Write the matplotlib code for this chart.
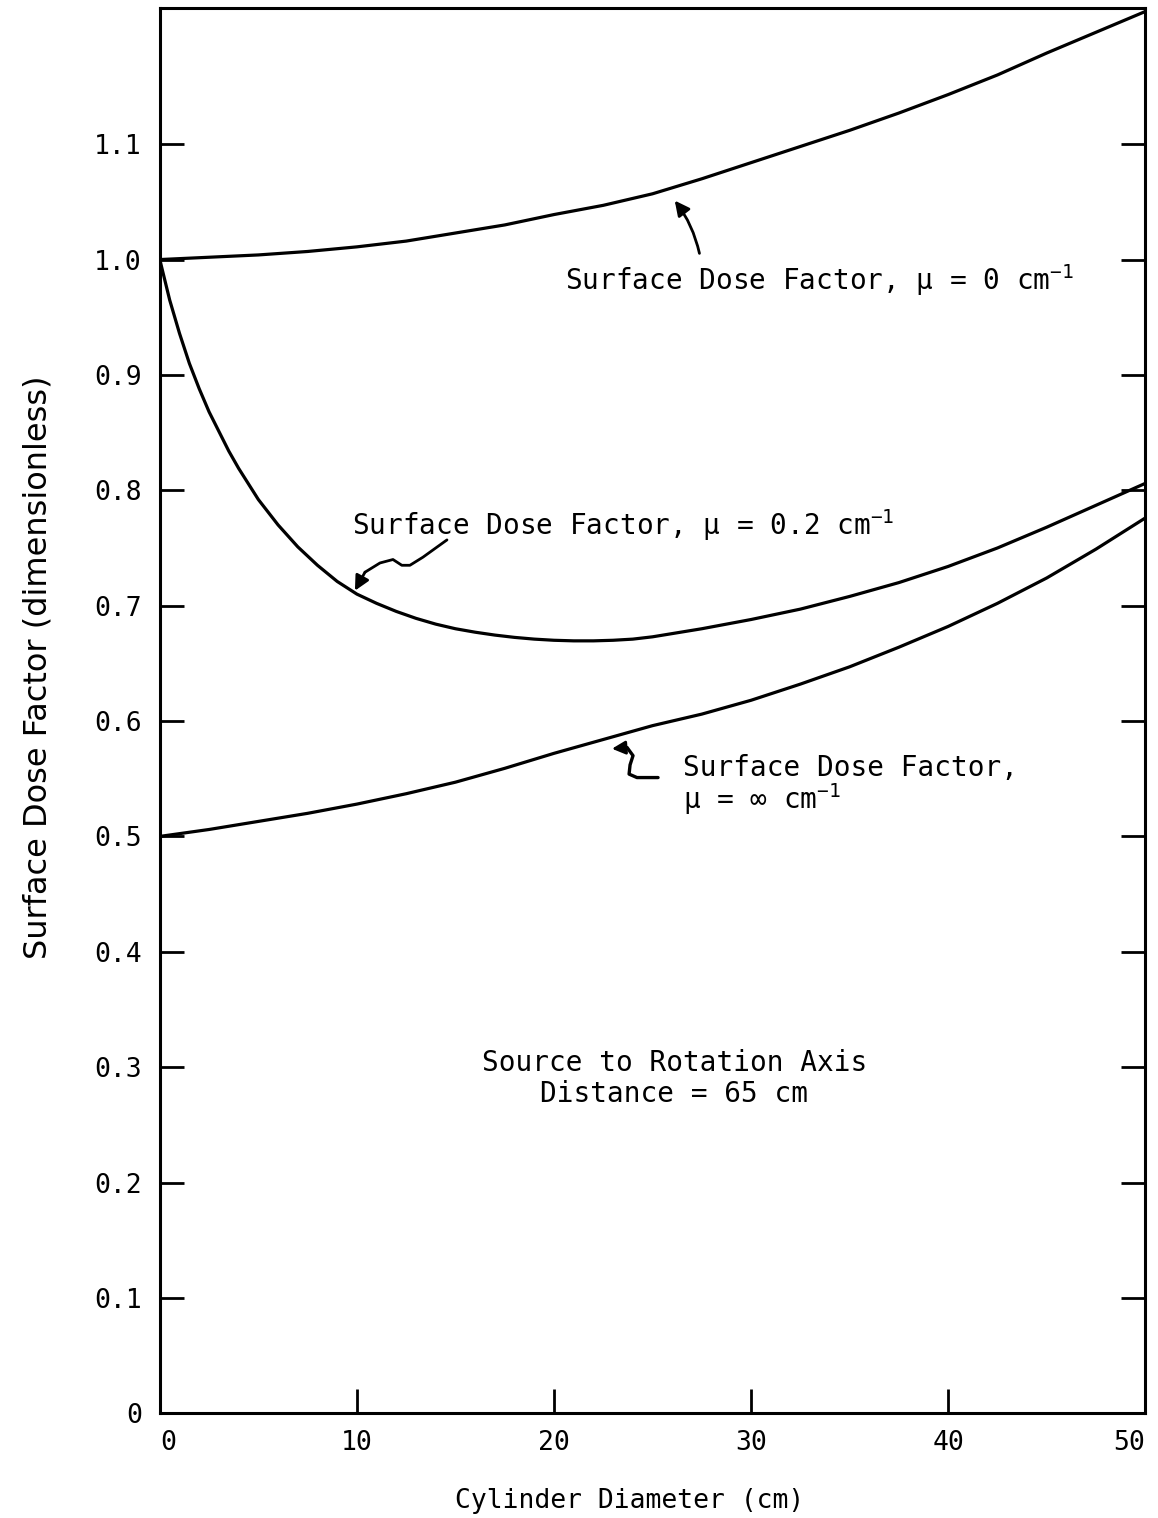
import matplotlib
matplotlib.use("Agg")
import matplotlib.pyplot as plt

plt.rcParams["font.family"] = ["DejaVu Sans Mono", "DejaVu Sans"]
plt.rcParams["mathtext.fontset"] = "custom"
plt.rcParams["mathtext.rm"] = "DejaVu Sans Mono"
plt.rcParams["mathtext.default"] = "regular"

# Surface dose factor vs. cylinder diameter (cm)
diameter_mu0 = [0, 2.5, 5, 7.5, 10, 12.5, 15, 17.5, 20, 22.5, 25, 27.5, 30,
                32.5, 35, 37.5, 40, 42.5, 45, 47.5, 50]
factor_mu0 = [1.000, 1.002, 1.004, 1.007, 1.011, 1.016, 1.023, 1.030, 1.039,
              1.047, 1.057, 1.070, 1.084, 1.098, 1.112, 1.127, 1.143, 1.160,
              1.179, 1.197, 1.215]

diameter_mu02 = [0, 0.5, 1, 1.5, 2, 2.5, 3, 3.5, 4, 5, 6, 7, 8, 9, 10, 11, 12,
                 13, 14, 15, 16, 17, 18, 19, 20, 21, 22, 23, 24, 25, 27.5, 30,
                 32.5, 35, 37.5, 40, 42.5, 45, 47.5, 50]
factor_mu02 = [1.000, 0.965, 0.936, 0.910, 0.888, 0.868, 0.851, 0.834, 0.819,
               0.792, 0.770, 0.751, 0.735, 0.721, 0.710, 0.702, 0.695, 0.689,
               0.684, 0.680, 0.677, 0.6745, 0.6725, 0.671, 0.670, 0.6695,
               0.6695, 0.670, 0.671, 0.673, 0.680, 0.688, 0.697, 0.708, 0.720,
               0.734, 0.750, 0.768, 0.787, 0.806]

diameter_muinf = [0, 2.5, 5, 7.5, 10, 12.5, 15, 17.5, 20, 22.5, 25, 27.5, 30,
                  32.5, 35, 37.5, 40, 42.5, 45, 47.5, 50]
factor_muinf = [0.500, 0.506, 0.513, 0.520, 0.528, 0.537, 0.547, 0.559, 0.572,
                0.584, 0.596, 0.606, 0.618, 0.632, 0.647, 0.664, 0.682, 0.702,
                0.724, 0.749, 0.776]

x_ticks = [0, 10, 20, 30, 40, 50]
x_tick_labels = ["0", "10", "20", "30", "40", "50"]
y_ticks = [0, 0.1, 0.2, 0.3, 0.4, 0.5, 0.6, 0.7, 0.8, 0.9, 1.0, 1.1]
y_tick_labels = ["0", "0.1", "0.2", "0.3", "0.4", "0.5", "0.6", "0.7",
                 "0.8", "0.9", "1.0", "1.1"]

fig = plt.figure(figsize=(11.58, 15.18), dpi=100)
ax = fig.add_axes([0.138, 0.069, 0.851, 0.9257])

lw = 2.3
ax.plot(diameter_mu0, factor_mu0, color="black", lw=lw, solid_capstyle="round")
ax.plot(diameter_mu02, factor_mu02, color="black", lw=lw, solid_capstyle="round")
ax.plot(diameter_muinf, factor_muinf, color="black", lw=lw, solid_capstyle="round")

ax.set_xlim(0, 50)
ax.set_ylim(0, 1.218)
ax.set_xticks(x_ticks)
ax.set_xticklabels(x_tick_labels)
ax.set_yticks(y_ticks)
ax.set_yticklabels(y_tick_labels)

for s in ax.spines.values():
    s.set_linewidth(2.2)

ax.tick_params(axis="x", direction="in", length=17, width=2.0, top=False,
               labelsize=19, pad=12)
ax.tick_params(axis="y", direction="in", length=17, width=2.0, right=True,
               labelsize=19, pad=13)

xlabels = ax.get_xticklabels()
xlabels[0].set_horizontalalignment("left")
xlabels[-1].set_horizontalalignment("right")

ax.set_xlabel("Cylinder Diameter (cm)", fontsize=19)
ax.xaxis.set_label_coords(0.477, -0.053)
ax.set_ylabel("Surface Dose Factor (dimensionless)", fontsize=23,
              family="DejaVu Sans")
ax.yaxis.set_label_coords(-0.108, 0.531)

fs = 20
ax.text(20.56, 0.982, "Surface Dose Factor, \u03bc = 0 cm$^{-1}$",
        fontsize=fs, ha="left", va="center")
ax.text(9.75, 0.770, "Surface Dose Factor, \u03bc = 0.2 cm$^{-1}$",
        fontsize=fs, ha="left", va="center")
ax.text(26.55, 0.559, "Surface Dose Factor,", fontsize=fs, ha="left", va="center")
ax.text(26.55, 0.532, "\u03bc = \u221e cm$^{-1}$", fontsize=fs, ha="left", va="center")
ax.text(26.1, 0.290, "Source to Rotation Axis\nDistance = 65 cm", fontsize=fs,
        ha="center", va="center", linespacing=1.15)

# pointer for the mu = 0 label
ax.annotate("", xy=(26.04, 1.053), xytext=(27.41, 1.003),
            arrowprops=dict(arrowstyle="-|>", color="black", lw=2,
                            mutation_scale=22,
                            connectionstyle="arc3,rad=0.12"))

# squiggle pointer for the mu = 0.2 label
sq02_x = [14.57, 13.35, 12.69, 12.28, 11.83, 11.17, 10.41]
sq02_y = [0.757, 0.742, 0.735, 0.735, 0.740, 0.737, 0.729]
ax.plot(sq02_x, sq02_y, color="black", lw=2, solid_capstyle="round")
ax.annotate("", xy=(9.90, 0.713), xytext=(10.41, 0.729),
            arrowprops=dict(arrowstyle="-|>", color="black", lw=2,
                            mutation_scale=22, shrinkA=0, shrinkB=0))

# squiggle pointer for the mu = infinity label
sqinf_x = [25.28, 24.21, 23.81, 23.86, 24.01, 23.71]
sqinf_y = [0.551, 0.551, 0.554, 0.562, 0.570, 0.577]
ax.plot(sqinf_x, sqinf_y, color="black", lw=2.4, solid_capstyle="round")
ax.annotate("", xy=(22.94, 0.576), xytext=(23.71, 0.577),
            arrowprops=dict(arrowstyle="-|>", color="black", lw=2,
                            mutation_scale=20, shrinkA=0, shrinkB=0))

fig.savefig("out.png", dpi=100, facecolor="white")
